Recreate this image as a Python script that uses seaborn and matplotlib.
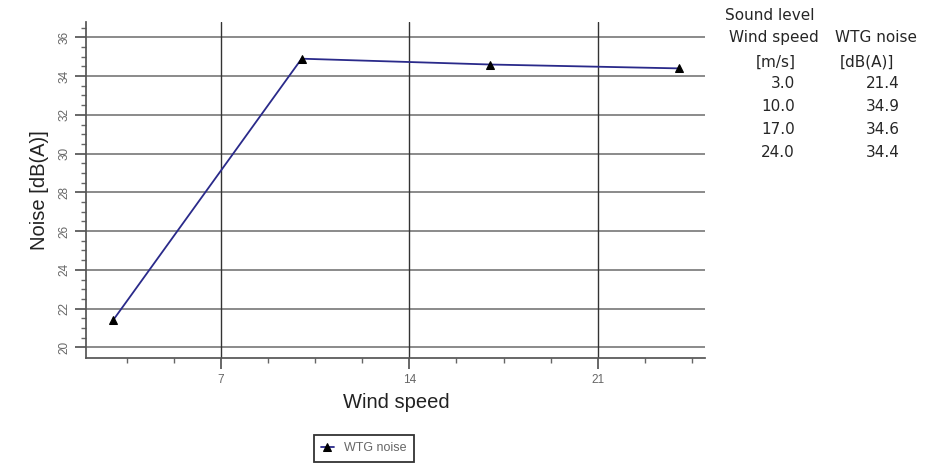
import pandas as pd
import matplotlib.pyplot as plt
import seaborn as sns

# =============================================================================
# Data
# =============================================================================
wind_speed = [3.0, 10.0, 17.0, 24.0]
wtg_noise = [21.4, 34.9, 34.6, 34.4]
series_name = 'WTG noise'

df = pd.DataFrame({'wind_speed': wind_speed, 'noise': wtg_noise})

# =============================================================================
# Plot
# =============================================================================
sns.set_theme(style='white')
plt.rcParams['font.family'] = ['Liberation Sans', 'DejaVu Sans']

fig = plt.figure(figsize=(9.27, 4.76), dpi=100)
ax = fig.add_axes([0.093, 0.248, 0.668, 0.706])

sns.lineplot(data=df, x='wind_speed', y='noise', ax=ax, color='#2a2a8a',
             linewidth=1.3, marker='^', markersize=6, markerfacecolor='black',
             markeredgecolor='black', label=series_name)

ax.set_xlim(2, 25)
ax.set_ylim(19.45, 36.8)
ax.set_xticks([7, 14, 21])
ax.set_xticks([3.5, 5.25, 8.75, 10.5, 12.25, 15.75, 17.5, 19.25, 22.75, 24.5], minor=True)
ax.set_yticks(range(20, 37, 2))
ax.set_yticks([y + 0.5 * k for y in range(20, 36, 2) for k in (1, 2, 3)] + [36.5], minor=True)

# grid: light horizontal, darker vertical
for y in range(20, 37, 2):
    ax.axhline(y, color='#8a8a8a', linewidth=1.4, zorder=0)
for x in [7, 14, 21]:
    ax.axvline(x, color='#333333', linewidth=1.0, zorder=0)

ax.spines['top'].set_visible(False)
ax.spines['right'].set_visible(False)
ax.spines['left'].set_color('#555555')
ax.spines['bottom'].set_color('#555555')

ax.tick_params(axis='both', which='major', direction='out', length=8, color='#555555',
               labelcolor='#666666', labelsize=8.5, left=True, bottom=True)
ax.tick_params(axis='both', which='minor', direction='out', length=3.5, color='#666666',
               left=True, bottom=True)
for lbl in ax.get_yticklabels():
    lbl.set_rotation(90)
    lbl.set_va('center')

ax.set_xlabel('Wind speed', fontsize=14.5, color='#222222', labelpad=5)
ax.set_ylabel('Noise [dB(A)]', fontsize=14.5, color='#222222', labelpad=7)

leg = ax.legend(loc='center', bbox_to_anchor=(363.5 / 927, 1 - 448 / 476),
                bbox_transform=fig.transFigure,
                fontsize=9, frameon=True, fancybox=False, handlelength=1.0,
                borderpad=0.6, handletextpad=0.8)
leg.get_frame().set_edgecolor('black')
leg.get_frame().set_linewidth(1.3)
for t in leg.get_texts():
    t.set_color('#666666')

# =============================================================================
# Side table
# =============================================================================
tfont = ['DejaVu Sans']
fs = 11
fig.text(725 / 927, 1 - 15 / 476, 'Sound level', fontsize=fs, family=tfont, va='center', ha='left')
fig.text(729 / 927, 1 - 38 / 476, 'Wind speed', fontsize=fs, family=tfont, va='center', ha='left')
fig.text(835 / 927, 1 - 38 / 476, 'WTG noise', fontsize=fs, family=tfont, va='center', ha='left')
fig.text(776 / 927, 1 - 62 / 476, '[m/s]', fontsize=fs, family=tfont, va='center', ha='center')
fig.text(867 / 927, 1 - 62 / 476, '[dB(A)]', fontsize=fs, family=tfont, va='center', ha='center')
for i, (ws, nz) in enumerate(zip(wind_speed, wtg_noise)):
    yy = 1 - (84 + 22.7 * i) / 476
    fig.text(795 / 927, yy, f'{ws:.1f}', fontsize=fs, family=tfont, va='center', ha='right')
    fig.text(900 / 927, yy, f'{nz:.1f}', fontsize=fs, family=tfont, va='center', ha='right')

plt.savefig('out.png', dpi=100)
